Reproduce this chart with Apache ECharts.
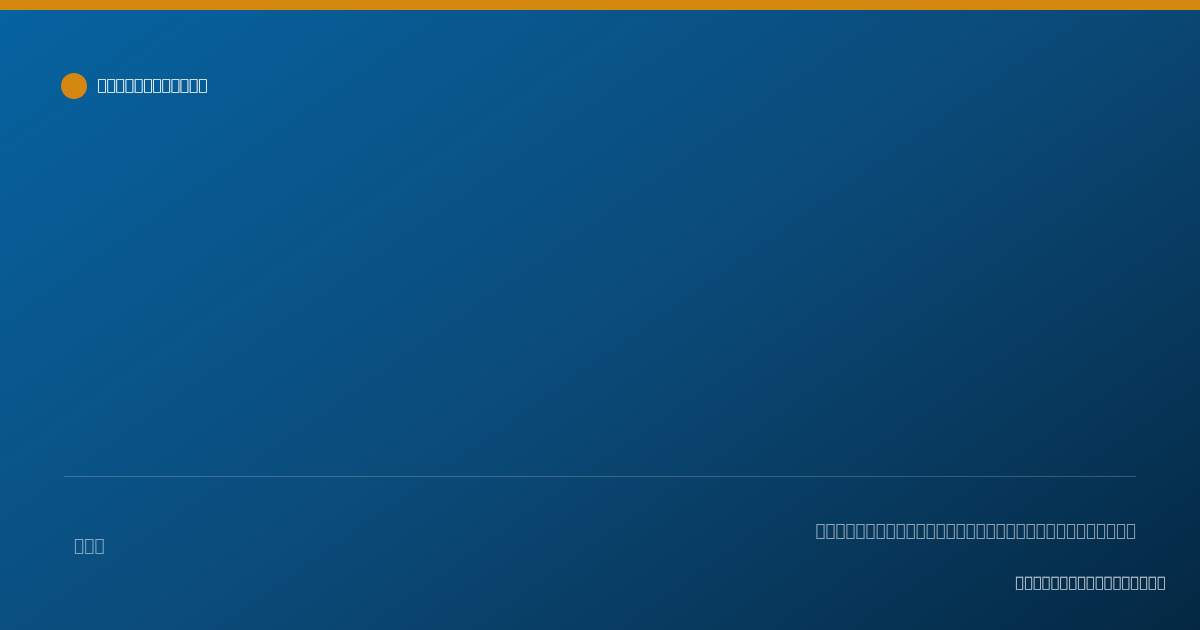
<!DOCTYPE html>
<html>
<head>
<meta charset="utf-8">
<script src="https://cdn.jsdelivr.net/npm/echarts@6/dist/echarts.min.js"></script>
<style>html,body{margin:0;padding:0;background:#0a4d7a;}#c{width:1200px;height:630px;}</style>
</head>
<body>
<div id="c"></div>
<script>
// The reference's text is drawn only as "missing glyph" boxes, so the original characters can't be read.
// Each string keeps the reference's character count, using characters that no installed font covers.
const MISSING = '\uE000';
const badgeLabel = MISSING.repeat(12);   // legend / badge label
const footerNote = MISSING.repeat(32);   // right footer note
const footerLeft = MISSING.repeat(3);    // left footer label
const footerSource = MISSING.repeat(17); // bottom-right source line
const seriesValues = [];                 // the plot area is empty in the reference

const chart = echarts.init(document.getElementById('c'), null, {renderer: 'canvas'});
chart.setOption({
  animation: false,
  backgroundColor: new echarts.graphic.LinearGradient(0, 0, 693, 985, [
    {offset: 0, color: '#0663a1'},
    {offset: 0.5, color: '#0b4c7b'},
    {offset: 1, color: '#042843'}
  ], true),
  grid: {left: 64, right: 64, top: 120, bottom: 160, show: false},
  xAxis: {type: 'value', show: false},
  yAxis: {type: 'value', show: false},
  legend: {
    left: 56, top: 68, itemWidth: 26, itemHeight: 26, icon: 'circle',
    textStyle: {color: '#ffffff', fontSize: 15.3, fontWeight: 'bold', fontFamily: 'DejaVu Sans', padding: [2, 0, 0, 5]}
  },
  series: [{type: 'scatter', name: badgeLabel, data: seriesValues, itemStyle: {color: '#d4880f', opacity: 1}}],
  graphic: [
    {type: 'rect', left: 0, top: 0, shape: {width: 1200, height: 10}, style: {fill: '#d4880f'}},
    {type: 'line', shape: {x1: 64, y1: 476.5, x2: 1136, y2: 476.5}, style: {stroke: 'rgba(255,255,255,0.2)', lineWidth: 1}},
    {type: 'text', x: 1136, y: 531.5, style: {text: footerNote, align: 'right', verticalAlign: 'middle', fill: 'rgba(255,255,255,0.55)', fontSize: 16.7, fontFamily: 'DejaVu Sans'}},
    {type: 'text', x: 74, y: 546.5, style: {text: footerLeft, align: 'left', verticalAlign: 'middle', fill: 'rgba(255,255,255,0.5)', fontSize: 17, fontFamily: 'DejaVu Sans'}},
    {type: 'text', x: 1165.5, y: 583.5, style: {text: footerSource, align: 'right', verticalAlign: 'middle', fill: 'rgba(255,255,255,0.78)', fontSize: 14.75, fontWeight: 'bold', fontFamily: 'DejaVu Sans'}}
  ]
});
</script>
</body>
</html>
